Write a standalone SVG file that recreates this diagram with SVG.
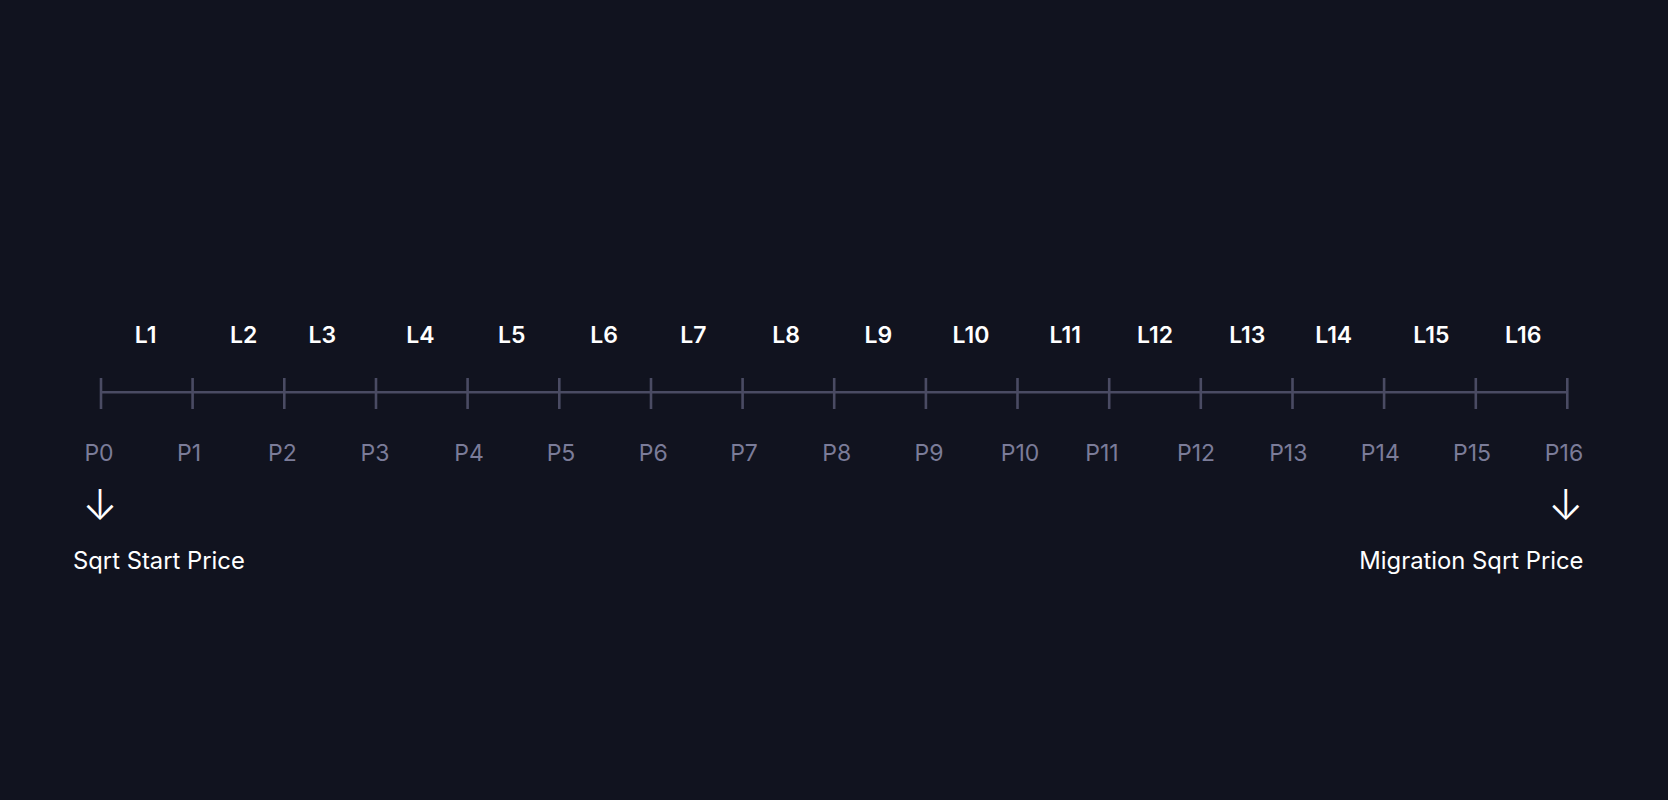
<svg xmlns="http://www.w3.org/2000/svg" width="1668" height="800" viewBox="0 0 1668 800">
<style>
.lbl{font-family:Inter,"Noto Sans","Liberation Sans",sans-serif;font-size:23px;font-weight:600;fill:#ffffff;text-anchor:middle}
.pl{font-family:Inter,"Noto Sans","Liberation Sans",sans-serif;font-size:23px;font-weight:400;fill:#7b7c99;text-anchor:middle}
.cap{font-family:Inter,"Noto Sans","Liberation Sans",sans-serif;font-size:23.8px;font-weight:400;fill:#ffffff}
.arr{font-family:Inter,"Noto Sans CJK SC",sans-serif;font-size:42px;font-weight:300;fill:#ffffff;text-anchor:middle}
.ax{stroke:#4a4b63;stroke-width:2.6;fill:none}
</style>
<rect width="1668" height="800" fill="#11131f"/>
<g id="axis">
<line class="ax" x1="101" y1="392.3" x2="1567.3" y2="392.3"/>
<path class="ax" d="M101,378V409M192.6,378V409M284.3,378V409M376,378V409M467.6,378V409M559.3,378V409M651,378V409M742.6,378V409M834.2,378V409M925.9,378V409M1017.5,378V409M1109.2,378V409M1200.8,378V409M1292.5,378V409M1384.1,378V409M1475.8,378V409M1567.3,378V409"/>
</g>
<g id="segment-labels">
<text class="lbl" x="145.7" y="343.3">L1</text>
<text class="lbl" x="243.7" y="343.3">L2</text>
<text class="lbl" x="322.3" y="343.3">L3</text>
<text class="lbl" x="420.5" y="343.3">L4</text>
<text class="lbl" x="511.7" y="343.3">L5</text>
<text class="lbl" x="604" y="343.3">L6</text>
<text class="lbl" x="693.3" y="343.3">L7</text>
<text class="lbl" x="786" y="343.3">L8</text>
<text class="lbl" x="878.3" y="343.3">L9</text>
<text class="lbl" x="971" y="343.3">L10</text>
<text class="lbl" x="1065.3" y="343.3">L11</text>
<text class="lbl" x="1155" y="343.3">L12</text>
<text class="lbl" x="1247.3" y="343.3">L13</text>
<text class="lbl" x="1333.7" y="343.3">L14</text>
<text class="lbl" x="1431.3" y="343.3">L15</text>
<text class="lbl" x="1523.3" y="343.3">L16</text>
</g>
<g id="price-labels">
<text class="pl" x="99" y="460.7">P0</text>
<text class="pl" x="189" y="460.7">P1</text>
<text class="pl" x="282.3" y="460.7">P2</text>
<text class="pl" x="375" y="460.7">P3</text>
<text class="pl" x="469" y="460.7">P4</text>
<text class="pl" x="561" y="460.7">P5</text>
<text class="pl" x="653.3" y="460.7">P6</text>
<text class="pl" x="744" y="460.7">P7</text>
<text class="pl" x="836.7" y="460.7">P8</text>
<text class="pl" x="929" y="460.7">P9</text>
<text class="pl" x="1020" y="460.7">P10</text>
<text class="pl" x="1102" y="460.7">P11</text>
<text class="pl" x="1196" y="460.7">P12</text>
<text class="pl" x="1288.3" y="460.7">P13</text>
<text class="pl" x="1380.3" y="460.7">P14</text>
<text class="pl" x="1472" y="460.7">P15</text>
<text class="pl" x="1564" y="460.7">P16</text>
</g>
<g id="start-node">
<text class="arr" x="100" y="520">↓</text>
<text class="cap" x="73" y="569">Sqrt Start Price</text>
</g>
<g id="end-node">
<text class="arr" x="1565.7" y="520">↓</text>
<text class="cap" x="1583.5" y="569" text-anchor="end">Migration Sqrt Price</text>
</g>
</svg>
